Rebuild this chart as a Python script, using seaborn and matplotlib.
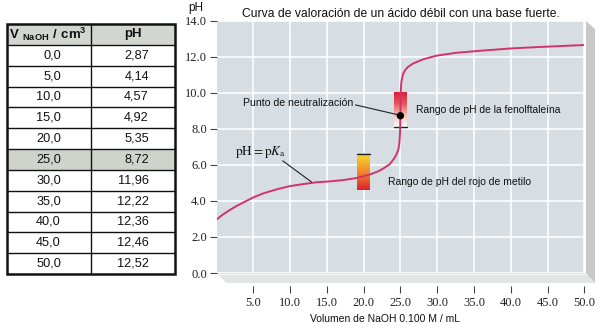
import matplotlib
matplotlib.use("Agg")
import matplotlib.pyplot as plt
from matplotlib.colors import LinearSegmentedColormap
from matplotlib.patches import Polygon, Rectangle
import numpy as np
import pandas as pd
import seaborn as sns

# ---- data -------------------------------------------------------------
table_volume = ["0,0", "5,0", "10,0", "15,0", "20,0", "25,0",
                "30,0", "35,0", "40,0", "45,0", "50,0"]
table_ph = ["2,87", "4,14", "4,57", "4,92", "5,35", "8,72",
            "11,96", "12,22", "12,36", "12,46", "12,52"]
highlight_volume = "25,0"

curve_volume = [0.0, 0.8, 1.8, 2.7, 3.6, 5.0, 6.4, 8.2, 10.0, 11.8,
                13.6, 15.4, 17.2, 19.1, 20.9, 22.0, 22.7, 23.5, 24.0,
                24.4, 24.7, 24.85, 24.95, 25.0, 25.03, 25.06, 25.12,
                25.25, 25.4, 25.7, 26.1, 26.75, 28.1, 29.9, 32.6,
                35.8, 40.35, 44.9, 50.0]
curve_ph = [2.96, 3.22, 3.49, 3.71, 3.90, 4.19, 4.42, 4.64, 4.82, 4.93,
            5.03, 5.08, 5.15, 5.27, 5.47, 5.64, 5.80, 6.02, 6.26,
            6.52, 6.82, 7.15, 7.75, 8.72, 9.60, 10.15, 10.55,
            10.85, 11.07, 11.28, 11.45, 11.62, 11.85, 12.05, 12.21,
            12.32, 12.46, 12.55, 12.64]

equiv_volume = [25.0]
equiv_ph = [8.72]

indicator_center = [25.0, 20.0]
indicator_low = [8.1, 4.6]
indicator_high = [10.0, 6.6]
indicator_colors = [["#ffffff", "#f4c3b8", "#e4585a", "#d8203a"],
                    ["#d8202e", "#ec6a2c", "#f4a62c", "#f9dc2c"]]
indicator_cap = ["low", "high"]

x_ticks = [5.0, 10.0, 15.0, 20.0, 25.0, 30.0, 35.0, 40.0, 45.0, 50.0]
y_ticks = [0.0, 2.0, 4.0, 6.0, 8.0, 10.0, 12.0, 14.0]

# ---- style ------------------------------------------------------------
sns.set_style("darkgrid", {"axes.facecolor": "#d6dde3",
                           "grid.color": "white"})
plt.rcParams["font.family"] = ["Liberation Sans", "DejaVu Sans"]
plt.rcParams["mathtext.fontset"] = "custom"
plt.rcParams["mathtext.bf"] = "Liberation Sans:bold"
plt.rcParams["mathtext.rm"] = "Liberation Sans"

W, H = 600, 335
fig = plt.figure(figsize=(6, 3.35), dpi=100)
fig.patch.set_facecolor("white")

# pixel canvas for the table and the box walls
bg = fig.add_axes([0, 0, 1, 1], zorder=0)
bg.set_xlim(0, W)
bg.set_ylim(H, 0)
bg.axis("off")

# ---- data table -------------------------------------------------------
tx0, tx1, tmid = 7, 175, 91
ty0, ty1 = 24, 274
nrows = len(table_volume) + 1
rh = (ty1 - ty0) / nrows
bg.add_patch(Rectangle((tx0, ty0), tx1 - tx0, rh, color="#d3d5d0", lw=0))
for i, (v, p) in enumerate(zip(table_volume, table_ph)):
    yc = ty0 + rh * (i + 1.5)
    if v == highlight_volume:
        bg.add_patch(Rectangle((tx0, ty0 + rh * (i + 1)), tx1 - tx0, rh,
                               color="#d0d2cc", lw=0))
    bg.text(61, yc, v, ha="right", va="center", fontsize=9.2, color="#111")
    bg.text(149, yc, p, ha="right", va="center", fontsize=9.2, color="#111")
for i in range(1, nrows):
    bg.plot([tx0, tx1], [ty0 + rh * i] * 2, color="#111", lw=1.0)
bg.plot([tmid, tmid], [ty0, ty1], color="#111", lw=1.0)
bg.add_patch(Rectangle((tx0, ty0), tx1 - tx0, ty1 - ty0, fill=False,
                       ec="#111", lw=1.8))
bg.text(48, ty0 + rh * 0.5,
        r"$\mathbf{V}\ _{\mathbf{NaOH}}\ \mathbf{/\ cm^{3}}$",
        ha="center", va="center", fontsize=9.5, color="#111",
        math_fontfamily="custom")
bg.text(133, ty0 + rh * 0.5, "pH", ha="center", va="center",
        fontsize=9.5, fontweight="bold", color="#111")

# ---- box walls around the plot ---------------------------------------
bg.add_patch(Polygon([(217, 273), (586, 273), (595, 283), (226, 283)],
                     closed=True, color="#e3e4e4", lw=0))
bg.plot([217, 586], [274, 274], color="#f4f4f4", lw=1.0)
bg.add_patch(Polygon([(586, 21), (595, 29), (595, 283), (586, 273)],
                     closed=True, color="#c8c8c8", lw=0))

# ---- titration chart ---------------------------------------------------
pl, pr, pt, pb = 216.5, 584.3, 20.5, 273.0
ax = fig.add_axes([pl / W, 1 - pb / H, (pr - pl) / W, (pb - pt) / H],
                  zorder=1)

for c, lo, hi, cols, cap in zip(indicator_center, indicator_low,
                                indicator_high, indicator_colors,
                                indicator_cap):
    cmap = LinearSegmentedColormap.from_list("ind", cols)
    grad = np.linspace(0, 1, 200).reshape(-1, 1)
    ax.imshow(grad, extent=[c - 0.87, c + 0.87, lo, hi], origin="lower",
              aspect="auto", cmap=cmap, zorder=2, interpolation="bilinear")
    yline = lo if cap == "low" else hi
    ax.plot([c - 0.87, c + 0.87], [yline, yline], color="#222", lw=1.0,
            zorder=2.5)

curve = pd.DataFrame({"V": curve_volume, "pH": curve_ph})
sns.lineplot(data=curve, x="V", y="pH", ax=ax, color="#d4336a",
             linewidth=1.4, zorder=3, sort=False)
sns.scatterplot(x=equiv_volume, y=equiv_ph, ax=ax, s=28, color="black",
                edgecolor="none", zorder=5)

ax.set_xlim(0, 50)
ax.set_ylim(0, 14)
ax.set_xticks(x_ticks)
ax.set_yticks(y_ticks)
ax.set_xticklabels([f"{t:.1f}" for t in x_ticks])
ax.set_yticklabels([f"{t:.1f}" for t in y_ticks])
ax.grid(True, color="white", lw=1.1)
ax.set_xlabel("")
ax.set_ylabel("")
for s in ax.spines.values():
    s.set_visible(False)
ax.spines["bottom"].set_position(("outward", 9))
ax.tick_params(axis="x", bottom=True, length=5, width=0.8, color="#444",
               pad=3, labelsize=9, labelcolor="#222")
ax.tick_params(axis="y", left=True, length=5, width=0.8, color="#444",
               pad=2, labelsize=9, labelcolor="#222")
for lab in ax.get_xticklabels() + ax.get_yticklabels():
    lab.set_fontfamily(["Liberation Serif", "DejaVu Serif"])

# annotations
ax.text(18.55, 9.42, "Punto de neutralización", ha="right", va="center",
        fontsize=7.6, color="#111")
ax.plot([18.9, 24.6], [9.32, 8.78], color="#222", lw=0.8, zorder=4)
ax.text(27.1, 9.04, "Rango de pH de la fenolftaleína", ha="left",
        va="center", fontsize=7.4, color="#111")
ax.text(2.5, 6.72, r"$\mathrm{pH} = \mathrm{p}K_{\mathrm{a}}$", ha="left",
        va="center", fontsize=9.5, color="#111", math_fontfamily="stix")
ax.plot([9.0, 12.9], [6.22, 5.05], color="#222", lw=0.8, zorder=4)
ax.text(23.3, 5.03, "Rango de pH del rojo de metilo", ha="left",
        va="center", fontsize=7.5, color="#111")

# titles
fig.text(401 / W, 1 - 14 / H,
         "Curva de valoración de un ácido débil con una base fuerte.",
         ha="center", va="center", fontsize=8.7, color="#111")
fig.text(188 / W, 1 - 8 / H, "pH", ha="left", va="center", fontsize=8.5,
         color="#111")
fig.text(385 / W, 1 - 319 / H, "Volumen de NaOH 0.100 M / mL",
         ha="center", va="center", fontsize=7.5, color="#111")

fig.savefig("out.png", dpi=100, facecolor="white")
